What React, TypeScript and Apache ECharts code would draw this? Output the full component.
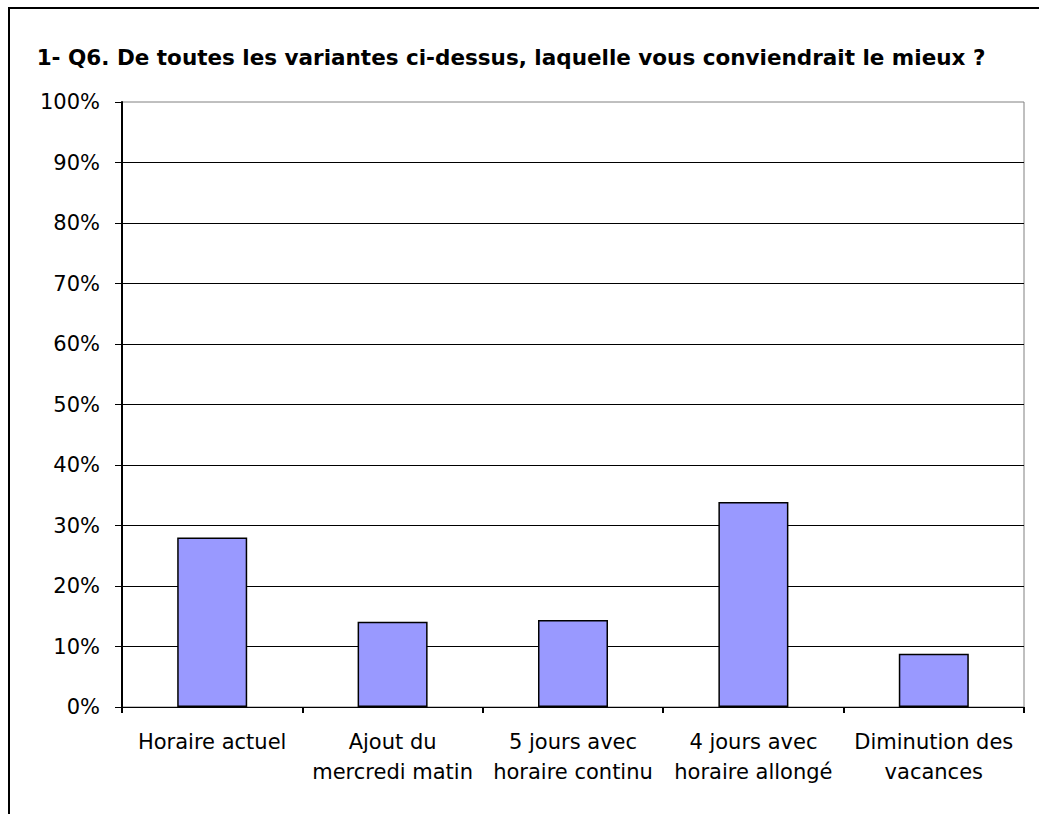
import React, { useEffect, useRef } from "react";
import * as echarts from "echarts";

const categories = [
  "Horaire actuel",
  "Ajout du\nmercredi matin",
  "5 jours avec\nhoraire continu",
  "4 jours avec\nhoraire allongé",
  "Diminution des\nvacances",
];
const values = [28.0, 14.1, 14.4, 33.9, 8.8];
const yTicks = { min: 0, max: 100, interval: 10 };
const titleText = "1- Q6. De toutes les variantes ci-dessus, laquelle vous conviendrait le mieux ?";

const FONT = "DejaVu Sans";

export default function App() {
  const ref = useRef<HTMLDivElement>(null);
  useEffect(() => {
    document.body.style.margin = "0";
    const chart = echarts.init(ref.current!, null, { renderer: "svg" });
    chart.setOption({
      animation: false,
      backgroundColor: "#ffffff",
      graphic: [
        {
          type: "rect",
          shape: { x: 9, y: 8, width: 1060, height: 840 },
          style: { fill: "none", stroke: "#000000", lineWidth: 2 },
          silent: true,
        },
        {
          type: "text",
          x: 511,
          y: 57,
          style: {
            text: titleText,
            fontFamily: FONT,
            fontWeight: "bold",
            fontSize: 21.5,
            fill: "#000000",
            textAlign: "center",
            textVerticalAlign: "middle",
          },
        },
      ],
      grid: {
        left: 122,
        top: 102,
        right: 15,
        bottom: 107,
        show: true,
        borderColor: "#808080",
        borderWidth: 1,
        backgroundColor: "transparent",
      },
      xAxis: {
        type: "category",
        data: categories,
        axisLine: { show: true, lineStyle: { color: "#000000", width: 1 } },
        axisTick: { show: true, length: 6, alignWithLabel: false, lineStyle: { color: "#000000", width: 2 } },
        axisLabel: {
          interval: 0,
          margin: 20,
          fontFamily: FONT,
          fontSize: 21,
          lineHeight: 30,
          color: "#000000",
        },
        splitLine: { show: false },
      },
      yAxis: {
        type: "value",
        min: yTicks.min,
        max: yTicks.max,
        interval: yTicks.interval,
        axisLine: { show: true, lineStyle: { color: "#000000", width: 2 } },
        axisTick: { show: true, length: 7, lineStyle: { color: "#000000", width: 1 } },
        axisLabel: {
          formatter: "{value}%",
          margin: 22,
          fontFamily: FONT,
          fontSize: 21,
          color: "#000000",
        },
        splitLine: { show: true, showMaxLine: false, lineStyle: { color: "#000000", width: 1 } },
      },
      series: [
        {
          type: "bar",
          data: values,
          barWidth: 70,
          itemStyle: { color: "#9999FF", borderColor: "#000000", borderWidth: 1.5 },
        },
      ],
    });
    return () => chart.dispose();
  }, []);
  return <div ref={ref} style={{ width: 1039, height: 814 }} />;
}
